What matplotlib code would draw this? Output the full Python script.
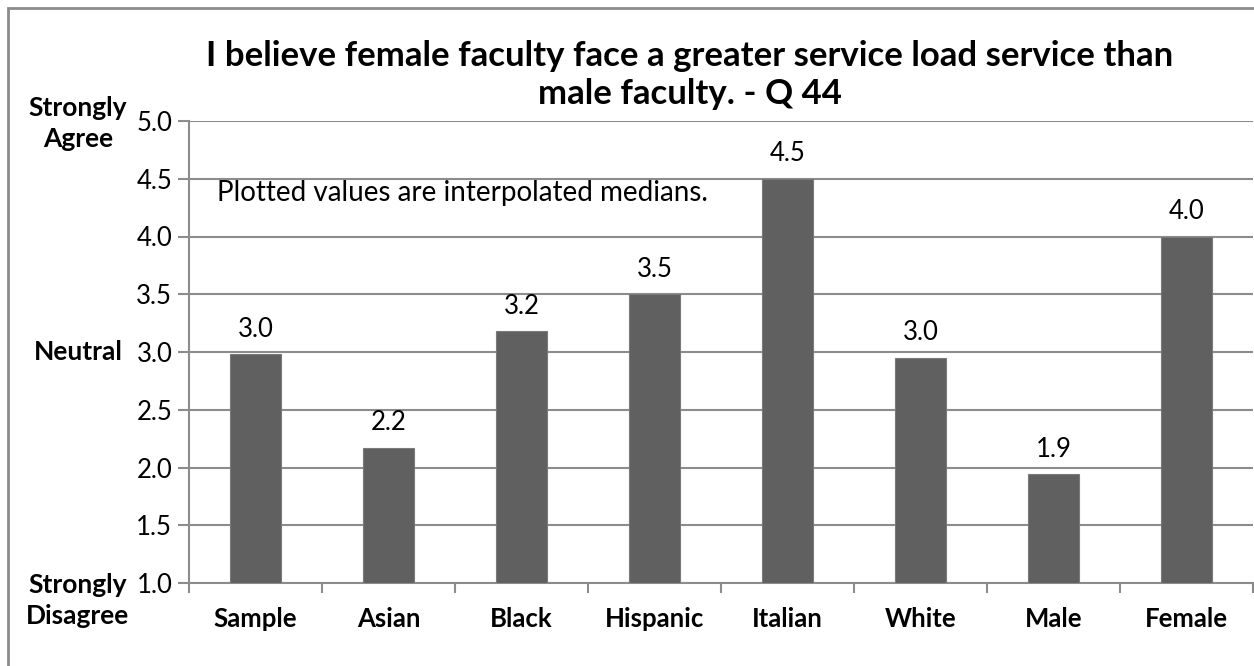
import numpy as np
import matplotlib.pyplot as plt
import matplotlib.patches as patches
from matplotlib.transforms import blended_transform_factory

categories = ['Sample', 'Asian', 'Black', 'Hispanic', 'Italian', 'White', 'Male', 'Female']
medians = [2.98, 2.17, 3.18, 3.5, 4.5, 2.95, 1.94, 4.0]
value_labels = ['3.0', '2.2', '3.2', '3.5', '4.5', '3.0', '1.9', '4.0']
y_ticks = [1.0, 1.5, 2.0, 2.5, 3.0, 3.5, 4.0, 4.5, 5.0]
scale_labels = [(4.98, 'Strongly\nAgree'), (3.0, 'Neutral'), (0.85, 'Strongly\nDisagree')]

plt.rcParams['font.family'] = ['Lato', 'DejaVu Sans']
grey = '#8c8c8c'
bar_col = '#606060'

fig = plt.figure(figsize=(12.54, 6.66), dpi=100)
ax = fig.add_axes([189/1254, 1-583/666, 1064/1254, 462/666])

x = np.arange(len(categories))
ax.bar(x, [m - 1.0 for m in medians], bottom=1.0, width=0.39, color=bar_col,
       edgecolor='#7a7a7a', linewidth=0.8, zorder=3)
for xi, m, lab in zip(x, medians, value_labels):
    ax.annotate(lab, (xi, m), xytext=(0, 9), textcoords='offset points',
                ha='center', va='bottom', fontsize=18.5)

ax.set_xlim(-0.5, len(categories) - 0.5)
ax.set_ylim(1.0, 5.0)
ax.set_yticks(y_ticks)
ax.set_yticklabels(['%.1f' % t for t in y_ticks], fontsize=18.5)
ax.set_xticks(np.arange(len(categories) + 1) - 0.5)
ax.set_xticklabels([])
ax.set_xticks(x, minor=True)
ax.set_xticklabels(categories, minor=True, fontsize=18.5, fontweight='bold')
ax.tick_params(axis='x', which='minor', length=0, pad=17)
ax.tick_params(axis='x', which='major', length=7, width=1.5, color=grey)
ax.tick_params(axis='y', length=8, width=1.5, color=grey, pad=4)
ax.grid(axis='y', color=grey, linewidth=1.5, zorder=0)
ax.set_axisbelow(True)
for s in ['top', 'right']:
    ax.spines[s].set_visible(False)
for s in ['left', 'bottom']:
    ax.spines[s].set_color(grey)
    ax.spines[s].set_linewidth(1.5)

ax.text(-0.29, 4.38, 'Plotted values are interpolated medians.', fontsize=20,
        ha='left', va='center')

trans = blended_transform_factory(fig.transFigure, ax.transData)
for yv, lab in scale_labels:
    ax.text(78/1254, yv, lab, transform=trans, ha='center', va='center',
            fontsize=19, fontweight='bold', linespacing=1.35)

fig.text(690/1254, 1-75/666,
         'I believe female faculty face a greater service load service than\nmale faculty. - Q 44',
         ha='center', va='center', fontsize=25, fontweight='bold', linespacing=1.2)

border = patches.Rectangle((8/1254, -0.1), 1.2, 1.1 - 8/666, transform=fig.transFigure,
                           fill=False, edgecolor=grey, linewidth=2)
fig.patches.append(border)

fig.savefig('out.png', dpi=100)
